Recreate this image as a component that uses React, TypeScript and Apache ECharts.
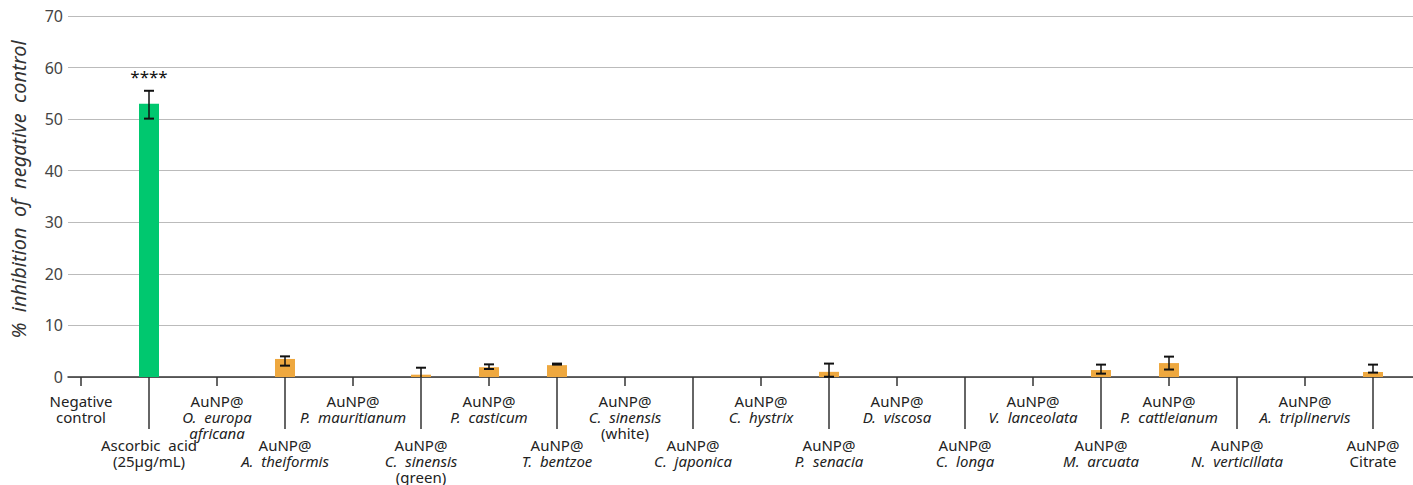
import React, { useEffect, useRef } from "react";
import * as echarts from "echarts";

const categories = [
  "Negative control",
  "Ascorbic acid (25µg/mL)",
  "AuNP@ O. europa africana",
  "AuNP@ A. theiformis",
  "AuNP@ P. mauritianum",
  "AuNP@ C. sinensis (green)",
  "AuNP@ P. casticum",
  "AuNP@ T. bentzoe",
  "AuNP@ C. sinensis (white)",
  "AuNP@ C. japonica",
  "AuNP@ C. hystrix",
  "AuNP@ P. senacia",
  "AuNP@ D. viscosa",
  "AuNP@ C. longa",
  "AuNP@ V. lanceolata",
  "AuNP@ M. arcuata",
  "AuNP@ P. cattleianum",
  "AuNP@ N. verticillata",
  "AuNP@ A. triplinervis",
  "AuNP@ Citrate",
];

// label parts: [plain lines before, italic lines, plain lines after]
const labelPlainTop: string[][] = [
  ["Negative", "control"],
  ["Ascorbic\u00a0 acid", "(25µg/mL)"],
  ["AuNP@"], ["AuNP@"], ["AuNP@"], ["AuNP@"], ["AuNP@"], ["AuNP@"], ["AuNP@"], ["AuNP@"],
  ["AuNP@"], ["AuNP@"], ["AuNP@"], ["AuNP@"], ["AuNP@"], ["AuNP@"], ["AuNP@"], ["AuNP@"], ["AuNP@"],
  ["AuNP@", "Citrate"],
];
const labelItalic: string[][] = [
  [], [],
  ["O.\u00a0 europa", "africana"],
  ["A.\u00a0 theiformis"],
  ["P.\u00a0 mauritianum"],
  ["C.\u00a0 sinensis"],
  ["P.\u00a0 casticum"],
  ["T.\u00a0 bentzoe"],
  ["C.\u00a0 sinensis"],
  ["C.\u00a0 japonica"],
  ["C.\u00a0 hystrix"],
  ["P.\u00a0 senacia"],
  ["D.\u00a0 viscosa"],
  ["C.\u00a0 longa"],
  ["V.\u00a0 lanceolata"],
  ["M.\u00a0 arcuata"],
  ["P.\u00a0 cattleianum"],
  ["N.\u00a0 verticillata"],
  ["A.\u00a0 triplinervis"],
  [],
];
const labelPlainBottom: string[][] = [
  [], [], [], [], [], ["(green)"], [], [], ["(white)"], [], [], [], [], [], [], [], [], [], [], [],
];

const values = [0, 53, 0, 3.5, 0, 0.45, 1.9, 2.3, 0, 0, 0, 1.0, 0, 0, 0, 1.35, 2.7, 0, 0, 0.97];
const errLow = [null, 50.1, null, 2.2, null, -1, 1.55, 2.4, null, null, null, 0.05, null, null, null, 0.65, 1.45, null, null, 0.85];
const errHigh = [null, 55.5, null, 4.0, null, 1.8, 2.45, 2.6, null, null, null, 2.6, null, null, null, 2.4, 3.95, null, null, 2.4];
const significance = ["", "****", "", "", "", "", "", "", "", "", "", "", "", "", "", "", "", "", "", ""];

const yTicks = [0, 10, 20, 30, 40, 50, 60, 70];
const yName = "%\u00a0 inhibition\u00a0 of\u00a0 negative\u00a0 control";

const GREEN = "#00C86F";
const ORANGE = "#EEA83F";
const FONT = "Noto Sans";

function buildLabel(i: number) {
  const parts: string[] = [];
  labelPlainTop[i].forEach((t) => parts.push(`{n|${t}}`));
  labelItalic[i].forEach((t) => parts.push(`{i|${t}}`));
  labelPlainBottom[i].forEach((t) => parts.push(`{n|${t}}`));
  return parts.join("\n");
}

const richStyles = {
  n: { fontFamily: FONT, fontSize: 15, color: "#222", lineHeight: 16, align: "center" },
  i: { fontFamily: FONT, fontSize: 15, color: "#222", lineHeight: 16, fontStyle: "italic", align: "center" },
};

export default function App() {
  const ref = useRef<HTMLDivElement>(null);
  useEffect(() => {
    if (!ref.current) return;
    const chart = echarts.init(ref.current, null, { renderer: "svg" });
    const errData = categories
      .map((c, i) => (errHigh[i] == null ? null : [i, errLow[i], errHigh[i]]))
      .filter((d) => d != null);

    chart.setOption({
      animation: false,
      textStyle: { fontFamily: FONT },
      grid: [
        { left: 63, right: 0, top: 16, bottom: 108 },
        { left: 47, right: 6, top: 16, bottom: 108 },
      ],
      xAxis: [
        {
          type: "value",
          gridIndex: 0,
          min: 0,
          max: 1,
          axisLine: { show: true, lineStyle: { color: "#333", width: 1.5 } },
          axisTick: { show: false },
          axisLabel: { show: false },
          splitLine: { show: false },
        },
        {
          type: "category",
          gridIndex: 1,
          position: "bottom",
          data: categories,
          axisLine: { show: false },
          axisTick: {
            show: true,
            alignWithLabel: true,
            length: 9,
            interval: (i: number) => i % 2 === 0,
            lineStyle: { color: "#333", width: 1.5 },
          },
          axisLabel: {
            show: true,
            interval: (i: number) => i % 2 === 0,
            margin: 16,
            formatter: (v: string, i: number) => buildLabel(i),
            rich: richStyles,
            verticalAlign: "top",
          },
        },
        {
          type: "category",
          gridIndex: 1,
          position: "bottom",
          offset: 0,
          data: categories,
          axisLine: { show: false },
          axisTick: {
            show: true,
            alignWithLabel: true,
            length: 52,
            interval: (i: number) => i % 2 === 1,
            lineStyle: { color: "#333", width: 1.5 },
          },
          axisLabel: {
            show: true,
            interval: (i: number) => i % 2 === 1,
            margin: 60,
            formatter: (v: string, i: number) => buildLabel(i),
            rich: richStyles,
            verticalAlign: "top",
          },
        },
      ],
      yAxis: [
        {
          type: "value",
          gridIndex: 0,
          min: yTicks[0],
          max: yTicks[yTicks.length - 1],
          interval: 10,
          axisLine: { show: false },
          axisTick: { show: false },
          axisLabel: { color: "#444", fontSize: 16, fontFamily: FONT, margin: 5 },
          splitLine: { show: true, lineStyle: { color: "#bbb", width: 1 } },
          name: yName,
          nameLocation: "middle",
          nameRotate: 90,
          nameGap: 40,
          nameTextStyle: { fontFamily: FONT, fontSize: 20, fontStyle: "italic", color: "#333", padding: [0, 0, 0, 14] },
        },
        {
          type: "value",
          gridIndex: 1,
          min: yTicks[0],
          max: yTicks[yTicks.length - 1],
          show: false,
          splitLine: { show: false },
        },
      ],
      series: [
        {
          type: "bar",
          xAxisIndex: 1,
          yAxisIndex: 1,
          barWidth: 20,
          data: values.map((v, i) => ({
            value: v,
            itemStyle: { color: i === 1 ? GREEN : ORANGE },
            label: significance[i]
              ? {
                  show: true,
                  position: "top",
                  distance: 19,
                  formatter: significance[i],
                  fontSize: 17,
                  color: "#111",
                  fontFamily: FONT,
                }
              : { show: false },
          })),
        },
        {
          type: "custom",
          xAxisIndex: 1,
          yAxisIndex: 1,
          data: errData,
          z: 10,
          renderItem: (params: any, api: any) => {
            const idx = api.value(0);
            const lo = api.value(1);
            const hi = api.value(2);
            const top = api.coord([idx, hi]);
            const bot = api.coord([idx, Math.max(lo, 0)]);
            const half = 5;
            const children: any[] = [
              {
                type: "line",
                shape: { x1: top[0], y1: top[1], x2: bot[0], y2: bot[1] },
                style: { stroke: "#111", lineWidth: 1.5 },
              },
              {
                type: "line",
                shape: { x1: top[0] - half, y1: top[1], x2: top[0] + half, y2: top[1] },
                style: { stroke: "#111", lineWidth: 2 },
              },
            ];
            if (lo >= 0) {
              children.push({
                type: "line",
                shape: { x1: bot[0] - half, y1: bot[1], x2: bot[0] + half, y2: bot[1] },
                style: { stroke: "#111", lineWidth: 2 },
              });
            }
            return { type: "group", children };
          },
        },
      ],
    });
    return () => chart.dispose();
  }, []);
  return (
    <div
      ref={ref}
      style={{ position: "absolute", left: 0, top: 0, width: 1413, height: 485 }}
    />
  );
}
